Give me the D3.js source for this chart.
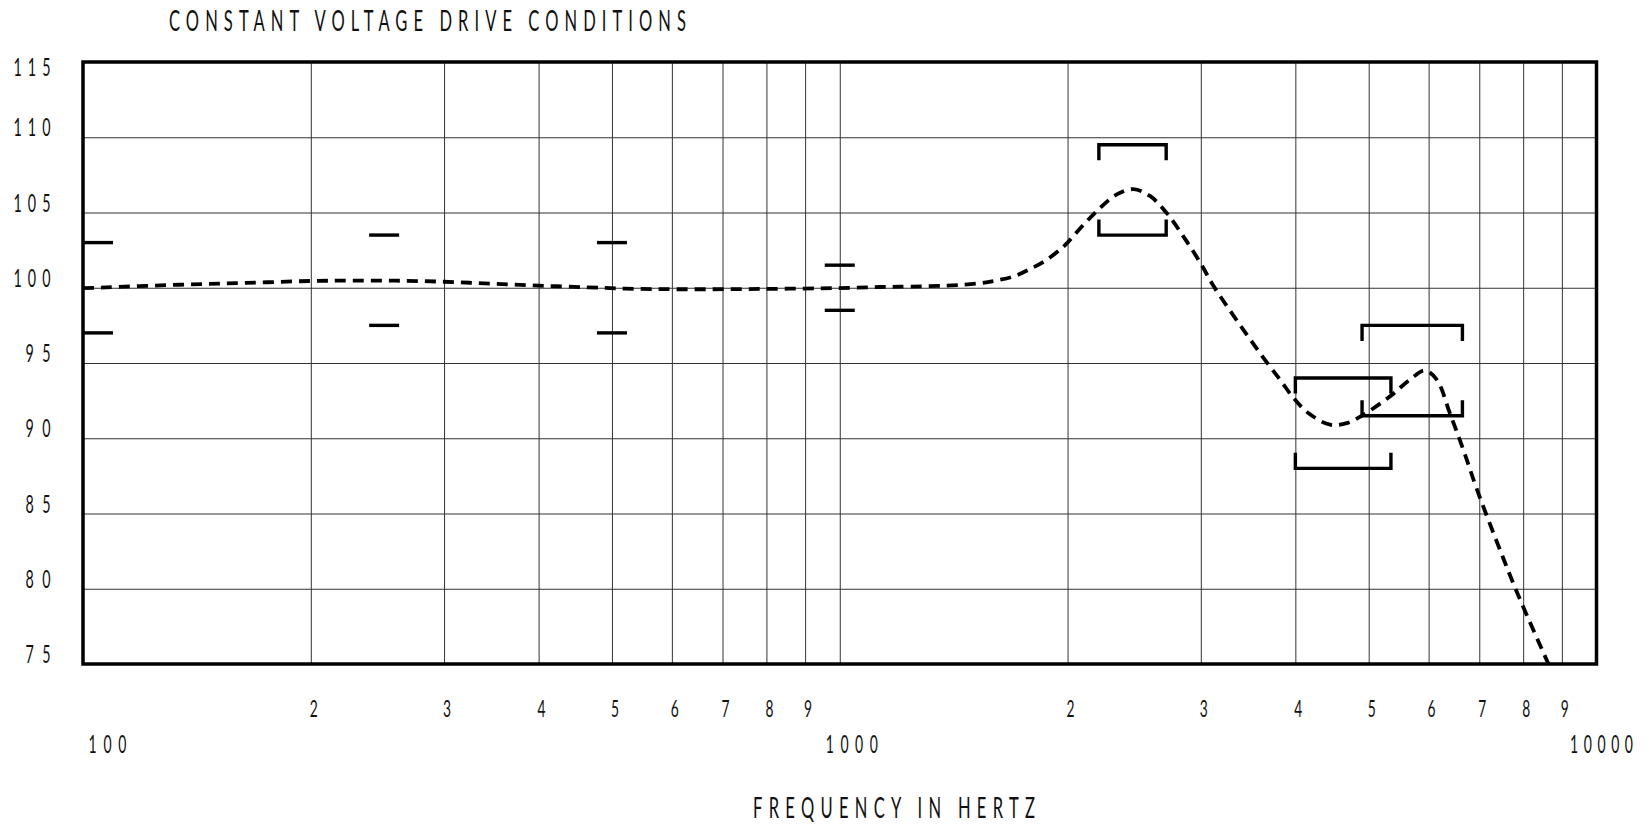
<!DOCTYPE html>
<html>
<head>
<meta charset="utf-8">
<script src="https://cdn.jsdelivr.net/npm/d3@7"></script>
<style>
  html, body { margin: 0; padding: 0; background: #fff; }
  svg { display: block; }
  text { font-family: Lato, "DejaVu Sans", "Liberation Sans", sans-serif; font-weight: 400; fill: #111; }
</style>
</head>
<body>
<svg id="chart" width="1649" height="827"></svg>
<script>
// ---------------- DATA ----------------
const titleText = "CONSTANT VOLTAGE DRIVE CONDITIONS";
const xAxisTitle = "FREQUENCY IN HERTZ";

// response curve (Hz, dB)
const curveFreqs = [100, 134, 164, 200, 225, 259, 300, 346, 400, 464, 521, 620, 783, 1000,
  1131, 1202, 1385, 1532, 1613, 1696, 1784, 1877, 1965, 2000, 2099, 2208, 2323, 2443, 2570,
  2705, 2846, 3000, 3117, 3280, 3452, 3630, 3819, 3977, 4160, 4445, 4677, 4920, 5340, 5670,
  5930, 6150, 6407, 6672, 6950, 7400, 7846, 8640];
const curveLevels = [99.97, 100.2, 100.32, 100.45, 100.47, 100.47, 100.4, 100.27, 100.14, 100.03,
  99.94, 99.9, 99.92, 99.98, 100.05, 100.07, 100.14, 100.3, 100.49, 100.75, 101.24, 101.86,
  102.63, 103.0, 104.18, 105.3, 106.2, 106.55, 106.1, 104.96, 103.4, 101.6, 100.13, 98.47,
  96.87, 95.34, 93.88, 92.68, 91.68, 90.9, 91.0, 91.56, 92.8, 93.9, 94.5, 93.9, 91.6, 89.2,
  86.6, 83.0, 79.8, 75.0];

// short tolerance marks (Hz, upper dB, lower dB)
const tolFreqs = [100, 250, 500, 1000];
const tolUpper = [103, 103.5, 103, 101.5];
const tolLower = [97, 97.5, 97, 98.5];

// bracket tolerance windows
const bracketFrom = [2200, 4000, 4900];
const bracketTo = [2700, 5350, 6650];
const bracketUpper = [109.5, 94, 97.5];
const bracketLower = [103.5, 88, 91.5];

// axes
const yTicks = [75, 80, 85, 90, 95, 100, 105, 110, 115];
const minorFreqs = [200, 300, 400, 500, 600, 700, 800, 900, 2000, 3000, 4000, 5000, 6000, 7000, 8000, 9000];
const minorLabels = ["2", "3", "4", "5", "6", "7", "8", "9", "2", "3", "4", "5", "6", "7", "8", "9"];
const decadeFreqs = [100, 1000, 10000];
const decadeLabels = ["100", "1000", "10000"];

// ---------------- LAYOUT ----------------
const L = 83, R = 1596.5, T = 62, B = 664;
const svg = d3.select("#chart");
const x = d3.scaleLog().domain([100, 10000]).range([L, R]);
const y = d3.scaleLinear().domain([75, 115]).range([B, T]);

// narrow text helper
function label(str, px, py, opt) {
  const sx = opt.sx || 0.56;
  const t = svg.append("text")
    .attr("transform", `translate(${px},${py}) scale(${sx},1)`)
    .attr("font-size", opt.size)
    .attr("text-anchor", opt.anchor || "start")
    .text(str);
  if (opt.width) {
    t.attr("textLength", opt.width / sx).attr("lengthAdjust", "spacing");
  }
  return t;
}

// gridlines via axes
const gx = svg.append("g")
  .attr("transform", `translate(0,${B})`)
  .call(d3.axisBottom(x).tickValues(minorFreqs.concat([1000])).tickSize(-(B - T)).tickFormat(""));
gx.select(".domain").remove();
gx.selectAll("line").attr("stroke", "#333").attr("stroke-width", 1);

const gy = svg.append("g")
  .attr("transform", `translate(${L},0)`)
  .call(d3.axisLeft(y).tickValues(yTicks.slice(1, -1)).tickSize(-(R - L)).tickFormat(""));
gy.select(".domain").remove();
gy.selectAll("line").attr("stroke", "#333").attr("stroke-width", 1);

// frame
svg.append("rect")
  .attr("x", L).attr("y", T).attr("width", R - L).attr("height", B - T)
  .attr("fill", "none").attr("stroke", "#000").attr("stroke-width", 3.5);

// clip
svg.append("clipPath").attr("id", "plotclip")
  .append("rect").attr("x", L).attr("y", T).attr("width", R - L).attr("height", B - T);

// tolerance marks
const tolG = svg.append("g").attr("stroke", "#000").attr("stroke-width", 3.4);
tolFreqs.forEach((f, i) => {
  const x1 = Math.max(x(f) - 15, L);
  [tolUpper[i], tolLower[i]].forEach(v => {
    tolG.append("line").attr("x1", x1).attr("x2", x1 + 30)
      .attr("y1", y(v)).attr("y2", y(v));
  });
});

// brackets
const tick = 15.5;
const brG = svg.append("g").attr("fill", "none").attr("stroke", "#000")
  .attr("stroke-width", 3.4).attr("stroke-linejoin", "miter");
bracketFrom.forEach((f, i) => {
  const x1 = x(f), x2 = x(bracketTo[i]);
  const yu = y(bracketUpper[i]), yl = y(bracketLower[i]);
  brG.append("path").attr("d", `M${x1},${yu + tick}V${yu}H${x2}V${yu + tick}`);
  brG.append("path").attr("d", `M${x1},${yl - tick}V${yl}H${x2}V${yl - tick}`);
});

// response curve
const pts = curveFreqs.map((f, i) => [f, curveLevels[i]]);
const line = d3.line().x(d => x(d[0])).y(d => y(d[1])).curve(d3.curveCatmullRom.alpha(0.5));
svg.append("path")
  .attr("clip-path", "url(#plotclip)")
  .attr("d", line(pts))
  .attr("fill", "none").attr("stroke", "#000").attr("stroke-width", 3.8)
  .attr("stroke-dasharray", "11,7");

// y labels
yTicks.forEach(v => {
  const s = String(v);
  const by = v === 115 ? y(v) + 14 : y(v) - 1;
  label(s, 50.5, by, { size: 25.5, anchor: "end", sx: 0.56, width: s.length === 3 ? 37 : 25 });
});

// x minor digit labels
minorFreqs.forEach((f, i) => {
  label(minorLabels[i], x(f) + 3, 717, { size: 23, anchor: "middle", sx: 0.6 });
});

// decade labels
const decadeDx = [24.5, 12, 5];
const decadeW = [38, 52, 63];
decadeFreqs.forEach((f, i) => {
  label(decadeLabels[i], x(f) + decadeDx[i], 753, { size: 25, anchor: "middle", sx: 0.56, width: decadeW[i] });
});

// titles
label(titleText, 169, 31, { size: 29.5, anchor: "start", sx: 0.56, width: 517 });
label(xAxisTitle, 753, 818, { size: 29.5, anchor: "start", sx: 0.56, width: 282 });
</script>
</body>
</html>
